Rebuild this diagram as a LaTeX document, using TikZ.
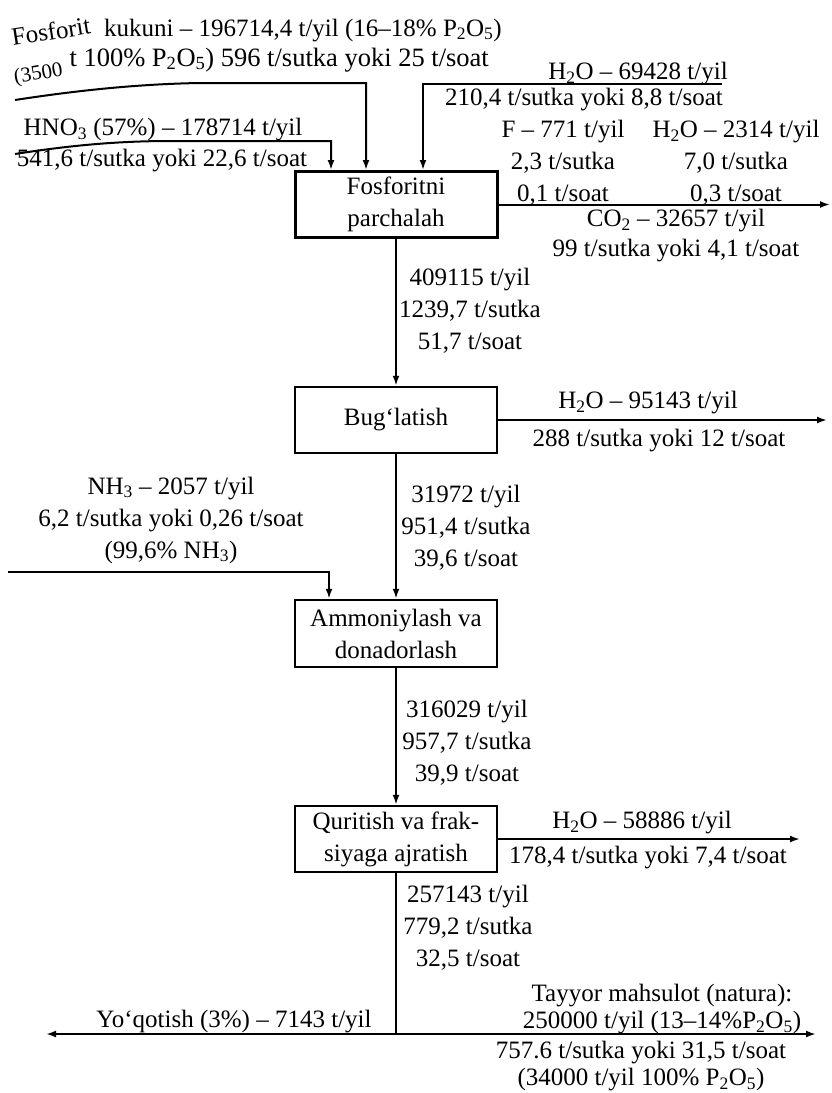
\documentclass[tikz,border=0pt]{standalone}
\usepackage{fontspec}
\setmainfont{Liberation Serif}
\usetikzlibrary{arrows.meta}
\newcommand\sbs[1]{\textsubscript{#1}}
\begin{document}
\begin{tikzpicture}[x=1pt,y=-1pt,
  lbl/.style={font=\fontsize{25}{32}\selectfont, inner sep=0pt, align=center},
  lblb/.style={font=\fontsize{25}{27}\selectfont, inner sep=0pt, align=center},
  proc/.style={draw, line width=2.5pt, minimum width=202pt, minimum height=66pt,
    inner sep=0pt, align=center, font=\fontsize{25}{32}\selectfont},
  flow/.style={line width=2pt},
  arr/.style={flow, -{Latex[length=10pt,width=7pt]}}]
\useasboundingbox (0,0) rectangle (832,1093);

% process boxes
\node[proc, line width=3pt] (b1) at (396,204.5) {Fosforitni\\parchalah};
\node[proc] (b2) at (396,420) {Bug‘latish};
\node[proc, minimum height=67pt] (b3) at (396,633.5) {Ammoniylash va\\donadorlash};
\node[proc] (b4) at (396,839) {Quritish va frak-\\siyaga ajratish};

% main flow
\draw[arr] (b1.south) -- (b2.north);
\draw[arr] (b2.south) -- (b3.north);
\draw[arr] (b3.south) -- (b4.north);

\node[lbl] (f1) at (470,311) {409115 t/yil\\1239,7 t/sutka\\51,7 t/soat};
\node[lbl] (f2) at (466,528) {31972 t/yil\\951,4 t/sutka\\39,6 t/soat};
\node[lbl] (f3) at (467,743) {316029 t/yil\\957,7 t/sutka\\39,9 t/soat};
\node[lbl] (f4) at (468,928) {257143 t/yil\\779,2 t/sutka\\32,5 t/soat};

% inputs to first box
\coordinate (fa) at (15,100);
\coordinate (fb) at (200,83);
\coordinate (fx) at (366,0);
\draw[arr] (fa) .. controls (80,90) and (140,84) .. (fb) -| (b1.north -| fx);
\coordinate (ha) at (15,154);
\coordinate (hb) at (170,141);
\coordinate (hx) at (331,0);
\draw[arr] (ha) .. controls (60,147) and (110,141) .. (hb) -| (b1.north -| hx);
\coordinate (wa) at (722,84);
\coordinate (wx) at (423,0);
\draw[arr] (wa) -| (b1.north -| wx);

\node[lbl, rotate=9, anchor=base west] (t1a) at (13,46) {Fosforit};
\node[lbl, anchor=base east] (t1b) at (502,36) {kukuni – 196714,4 t/yil (16–18\% P\sbs{2}O\sbs{5})};
\node[lbl, font=\fontsize{21}{26}\selectfont, rotate=10, anchor=base west] (t2a) at (15,84) {(3500};
\node[lbl, font=\fontsize{26.5}{32}\selectfont, anchor=base east] (t2b) at (489,66) {t 100\% P\sbs{2}O\sbs{5}) 596 t/sutka yoki 25 t/soat};
\node[lbl] (t3) at (163,130) {HNO\sbs{3} (57\%) – 178714 t/yil};
\node[lbl] (t4) at (162,161) {541,6 t/sutka yoki 22,6 t/soat};
\node[lbl] (t5) at (638,74) {H\sbs{2}O – 69428 t/yil};
\node[lbl] (t6) at (584,100) {210,4 t/sutka yoki 8,8 t/soat};

% outputs of first box
\coordinate (o1) at (830,204.5);
\draw[arr] (b1.east) -- (o1);
\node[lbl] (g1) at (563,163) {F – 771 t/yil\\2,3 t/sutka\\0,1 t/soat};
\node[lbl] (g2) at (736,163) {H\sbs{2}O – 2314 t/yil\\7,0 t/sutka\\0,3 t/soat};
\node[lbl, font=\fontsize{25}{30}\selectfont] (g3) at (676,236) {CO\sbs{2} – 32657 t/yil\\99 t/sutka yoki 4,1 t/soat};

% output of evaporation
\coordinate (o2) at (827,420);
\draw[arr] (b2.east) -- (o2);
\node[lbl] (e1) at (648,403) {H\sbs{2}O – 95143 t/yil};
\node[lbl] (e2) at (659,441) {288 t/sutka yoki 12 t/soat};

% ammonia input
\coordinate (n0) at (8,572);
\coordinate (nx) at (329,0);
\draw[arr] (n0) -| (b3.north -| nx);
\node[lbl] (a1) at (171,520) {NH\sbs{3} – 2057 t/yil\\6,2 t/sutka yoki 0,26 t/soat\\(99,6\% NH\sbs{3})};

% output of drying
\coordinate (o3) at (800,839);
\draw[arr] (b4.east) -- (o3);
\node[lbl] (d1) at (642,823) {H\sbs{2}O – 58886 t/yil};
\node[lbl] (d2) at (648,858) {178,4 t/sutka yoki 7,4 t/soat};

% final split
\coordinate (jn) at (396,1034);
\coordinate (lossEnd) at (46,1034);
\coordinate (prodEnd) at (816,1034);
\draw[flow] (b4.south) -- (jn);
\draw[arr] (jn) -- (lossEnd);
\draw[arr] (jn) -- (prodEnd);
\node[lbl] (l1) at (234,1022) {Yo‘qotish (3\%) – 7143 t/yil};
\node[lblb] (p1) at (662,1009) {Tayyor mahsulot (natura):\\250000 t/yil (13–14\%P\sbs{2}O\sbs{5})};
\node[lblb] (p2) at (641,1066) {757.6 t/sutka yoki 31,5 t/soat\\(34000 t/yil 100\% P\sbs{2}O\sbs{5})};
\end{tikzpicture}
\end{document}
